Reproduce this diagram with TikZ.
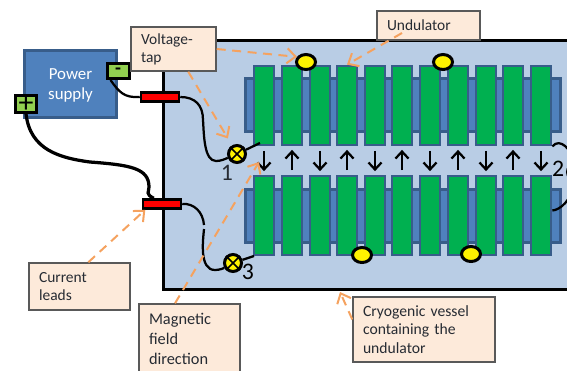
\documentclass[tikz,border=0pt]{standalone}
\usepackage{fontspec}
\setmainfont{Carlito}
\usetikzlibrary{arrows.meta,shapes.geometric}
\definecolor{vesselblue}{HTML}{B9CDE5}
\definecolor{barblue}{HTML}{4F81BD}
\definecolor{edgeblue}{HTML}{385D8A}
\definecolor{magnetgreen}{HTML}{00B050}
\definecolor{tapgreen}{HTML}{92D050}
\definecolor{notefill}{HTML}{FDEADA}
\definecolor{noteline}{HTML}{595959}
\definecolor{calloutorange}{HTML}{F5A25F}
\definecolor{notetext}{HTML}{262B33}
\newcommand{\notesize}{\fontsize{8.8}{10.1}\selectfont}
\newcommand{\numsize}{\fontsize{13.5}{15}\selectfont}
\tikzset{
  magnet/.style={draw=edgeblue, fill=magnetgreen, line width=.055cm, minimum width=.4cm, minimum height=1.58cm, inner sep=0},
  backbar/.style={draw=edgeblue, fill=barblue, line width=.055cm, minimum width=6.3cm, minimum height=1.06cm, inner sep=0},
  notebox/.style={draw=noteline, fill=notefill, line width=.03cm, inner xsep=.2cm, inner ysep=0, align=left, text=notetext, font=\notesize},
  pole/.style={draw=black, fill=tapgreen, line width=.06cm, minimum width=.44cm, minimum height=.3cm, inner sep=0},
  feedthrough/.style={draw=black, fill=red, line width=.05cm, minimum width=.76cm, minimum height=.18cm, inner sep=0},
  spot/.style={draw=black, fill=yellow, ellipse, line width=.06cm, minimum width=.38cm, minimum height=.3cm, inner sep=0},
  vtap/.style={draw=black, fill=yellow, circle, line width=.06cm, minimum size=.34cm, inner sep=0},
  wire/.style={line width=.045cm, black},
  callout/.style={draw=calloutorange, line width=.04cm, dash pattern=on .18cm off .13cm, -{Straight Barb[length=.17cm,width=.3cm,line width=.04cm]}},
  fieldarrow/.style={line width=.045cm, -{Straight Barb[length=.14cm,width=.26cm]}, shorten >=.07cm, shorten <=.09cm}
}

\begin{document}
\begin{tikzpicture}[x=.02cm, y=-.02cm]
      \clip (0,0) rectangle (567,370);

          %%  The vessel and the two rows of the undulator %%
      \node (vessel) at (401.5,165) [draw, fill=vesselblue, line width=.06cm, minimum width=9.54cm, minimum height=5cm] {};
      \node (topbar) at (403,105) [backbar] {};
      \node (lowbar) at (403,216) [backbar] {};

      \foreach \x [count=\i] in {264,292,320,347,375,402,430,458,486,513,541}
      { \node (up\i) at (\x,105.5) [magnet] {};
        \node (lo\i) at (\x,215.5) [magnet] {};
        \ifodd\i
          \draw[fieldarrow] (up\i.south) to (lo\i.north);
        \else
          \draw[fieldarrow] (lo\i.north) to (up\i.south);
        \fi }

      \node (spot1) at (306,62) [spot] {};
      \node (spot2) at (443,62) [spot] {};
      \node (spot3) at (362,255) [spot] {};
      \node (spot4) at (471,254) [spot] {};

          %%  Supply, feedthroughs and voltage taps %%
      \node (supply) at (70.5,84) [draw=edgeblue, fill=barblue, line width=.06cm, minimum width=1.86cm, minimum height=1.34cm, align=center, text=white, text depth=0pt, font=\fontsize{9.6}{11.4}\selectfont] {Power\\supply};
      \node (redtop) at (160,97) [feedthrough] {};
      \node (redlow) at (162,204) [feedthrough] {};
      \node (tap1) at (237,154) [vtap] {};
      \node (tap2) at (576,172) [vtap] {};
      \node (tap3) at (233,263) [vtap] {};
      \foreach \j in {1,2,3}
      { \draw[line width=.03cm] (tap\j.north west) to (tap\j.south east) (tap\j.north east) to (tap\j.south west);}
      \node (num1) at (227,173) [font=\numsize, text=notetext, inner sep=0] {1};
      \node (num2) at (558,169) [font=\numsize, inner sep=0] {2};
      \node (num3) at (248,272) [font=\numsize, inner sep=0] {3};

      \coordinate (lead1) at (260,143);
      \coordinate (lead3) at (254,256);
      \coordinate (gapa) at (204,225);
      \coordinate (gapb) at (204,229);
      \node (minus) at (118,71) [pole, font=\bfseries\fontsize{11}{12}\selectfont] {-};
      \node (plus) at (26,104) [pole, font=\fontsize{17}{17}\selectfont] {+};

      \draw[wire] (minus.south west) ++(5,0) .. controls (119,92) and (124,98) .. (redtop.west);
      \draw[wire, line width=.065cm] (plus.south) .. controls (30,150) and (60,158) .. (90,162) .. controls (130,165) and (149,168) .. (149,187) .. controls (149,192) and (145,194) .. (redlow.145);
      \draw[wire] (redtop.east) .. controls (195,97) and (203,105) .. (203,120) .. controls (204,135) and (204,161) .. (216,161) .. controls (221,161) and (225,159) .. (tap1);
      \draw[wire] (redlow.east) .. controls (194,203) and (203,212) .. (gapa);
      \draw[wire] (gapb) .. controls (203,240) and (199,270) .. (215,270) .. controls (220,270) and (224,268) .. (tap3);
      \draw[wire] (tap1) to (lead1);
      \draw[wire] (tap3) to (lead3);
      \draw[wire] (up11.south east) .. controls (560,137) and (572,150) .. (tap2);
      \draw[wire] (lo11.east) ++(0,-5) .. controls (560,210) and (572,200) .. (tap2);

          %%  Notes and what they point to %%
      \node (voltnote) at (173.5,49) [notebox, text width=1.3cm, minimum height=.88cm] {Voltage-\\tap};
      \node (undunote) at (428.5,25.5) [notebox, text width=1.66cm, minimum height=.58cm] {Undulator};
      \node (leadnote) at (79.5,286.5) [notebox, text width=1.62cm, minimum height=.94cm] {Current\\leads};
      \node (fieldnote) at (189.5,339) [notebox, text width=1.62cm, minimum height=1.4cm, font=\fontsize{9.3}{11.2}\selectfont] {Magnetic\\field\\direction};
      \node (cryonote) at (424,329.5) [notebox, text width=2.44cm, minimum height=1.3cm, font=\fontsize{8.9}{10.5}\selectfont] {Cryogenic vessel\\containing the\\undulator};

      \coordinate (undustart) at (402,33);
      \coordinate (fieldtip) at (259,162);
      \coordinate (cryotip) at (340,292);
      \draw[callout] (voltnote.east) to (spot1.150);
      \draw[callout, shorten >=.16cm] (voltnote.-57) to (tap1.120);
      \draw[callout] (undustart) to (up4.north);
      \draw[callout] (leadnote.70) to (redlow.199);
      \draw[callout] (fieldnote.112) to (fieldtip);
      \draw[callout] (cryonote.172) to (cryotip);

\end{tikzpicture}
\end{document}
